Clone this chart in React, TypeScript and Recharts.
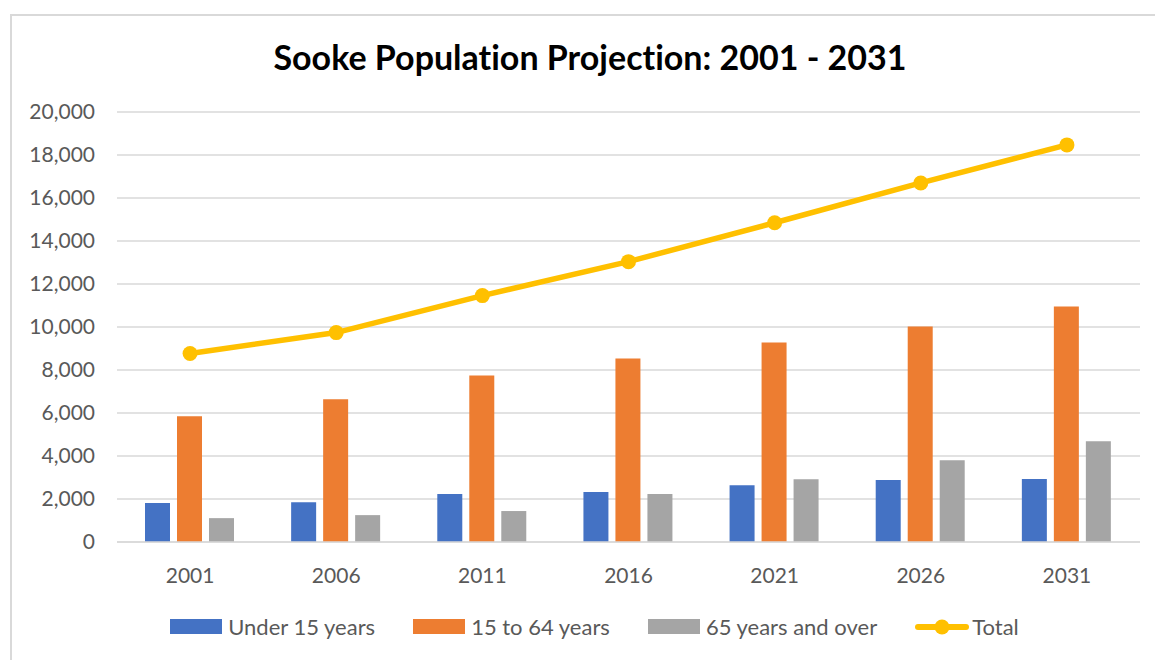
import React from "react";
import {
  ComposedChart,
  Bar,
  Line,
  XAxis,
  YAxis,
  CartesianGrid,
  Legend,
} from "recharts";

const years = ["2001", "2006", "2011", "2016", "2021", "2026", "2031"];
const under15 = [1810, 1850, 2230, 2320, 2640, 2880, 2930];
const age15to64 = [5850, 6640, 7750, 8540, 9280, 10020, 10950];
const over65 = [1110, 1250, 1440, 2230, 2920, 3800, 4690];
const total = [8770, 9740, 11460, 13040, 14850, 16700, 18470];
const yTicks = [0, 2000, 4000, 6000, 8000, 10000, 12000, 14000, 16000, 18000, 20000];
const legendOrder = ["Under 15 years", "15 to 64 years", "65 years and over", "Total"];

const SERIES_COLORS: Record<string, string> = {
  under15: "#4472C4",
  age15to64: "#ED7D31",
  over65: "#A5A5A5",
  total: "#FFC000",
};

const FONT = "Lato, 'Open Sans', sans-serif";
const TEXT_GRAY = "#595959";

const data = years.map((year, i) => ({
  year,
  under15: under15[i],
  age15to64: age15to64[i],
  over65: over65[i],
  total: total[i],
}));

function LegendContent({ payload }: any) {
  const items = [...(payload ?? [])].sort(
    (a: any, b: any) => legendOrder.indexOf(a.value) - legendOrder.indexOf(b.value)
  );
  return (
    <div
      style={{
        display: "flex",
        justifyContent: "center",
        alignItems: "center",
        gap: 38,
        fontFamily: FONT,
        fontSize: 22,
        color: TEXT_GRAY,
        paddingLeft: 34,
      }}
    >
      {items.map((entry: any) => (
        <div key={entry.value} style={{ display: "flex", alignItems: "center" }}>
          {entry.type === "line" ? (
            <svg width={54} height={18} style={{ marginRight: 3 }}>
              <line x1={3} y1={9} x2={51} y2={9} stroke={entry.color} strokeWidth={6} strokeLinecap="round" />
              <circle cx={27} cy={9} r={7.5} fill={entry.color} />
            </svg>
          ) : (
            <div style={{ width: 52, height: 15, background: entry.color, marginRight: 6 }} />
          )}
          <span>{entry.value}</span>
        </div>
      ))}
    </div>
  );
}

export default function App() {
  return (
    <div
      style={{
        position: "absolute",
        left: 0,
        top: 0,
        width: 1155,
        height: 660,
        overflow: "hidden",
        background: "#fff",
      }}
    >
      <div
        style={{
          position: "absolute",
          left: 10,
          top: 14,
          width: 1160,
          height: 680,
          border: "2px solid #D9D9D9",
          boxSizing: "border-box",
        }}
      />
      <div
        style={{
          position: "absolute",
          left: 0,
          top: 36,
          width: 1180,
          textAlign: "center",
          fontFamily: FONT,
          fontWeight: 700,
          fontSize: 34,
          color: "#000",
          fontVariantLigatures: "none",
        }}
      >
        Sooke Population Projection: 2001 - 2031
      </div>
      <ComposedChart
        width={1155}
        height={660}
        data={data}
        margin={{ top: 112, right: 15, left: 0, bottom: 0 }}
        barCategoryGap={28}
        barGap={7}
        style={{ position: "absolute", left: 0, top: 0 }}
      >
        <CartesianGrid vertical={false} stroke="#D9D9D9" strokeWidth={1.5} />
        <XAxis
          dataKey="year"
          height={66}
          tickLine={false}
          axisLine={{ stroke: "#D9D9D9", strokeWidth: 1.5 }}
          tick={{ fill: TEXT_GRAY, fontSize: 21, fontFamily: FONT }}
          tickMargin={20}
        />
        <YAxis
          width={117}
          domain={[0, 20000]}
          ticks={yTicks}
          interval={0}
          tickLine={false}
          axisLine={false}
          tickMargin={16}
          tickFormatter={(v: number) => v.toLocaleString("en-US")}
          tick={{ fill: TEXT_GRAY, fontSize: 21, fontFamily: FONT }}
        />
        <Legend
          verticalAlign="bottom"
          height={52}
          content={<LegendContent />}
          wrapperStyle={{ top: 613, left: 0, width: 1155 }}
        />
        <Bar dataKey="under15" name="Under 15 years" fill={SERIES_COLORS.under15} isAnimationActive={false} legendType="rect" />
        <Bar dataKey="age15to64" name="15 to 64 years" fill={SERIES_COLORS.age15to64} isAnimationActive={false} legendType="rect" />
        <Bar dataKey="over65" name="65 years and over" fill={SERIES_COLORS.over65} isAnimationActive={false} legendType="rect" />
        <Line
          dataKey="total"
          name="Total"
          type="linear"
          stroke={SERIES_COLORS.total}
          strokeWidth={5.5}
          dot={{ r: 7.5, fill: SERIES_COLORS.total, stroke: SERIES_COLORS.total, strokeWidth: 0 }}
          legendType="line"
          isAnimationActive={false}
        />
      </ComposedChart>
    </div>
  );
}
